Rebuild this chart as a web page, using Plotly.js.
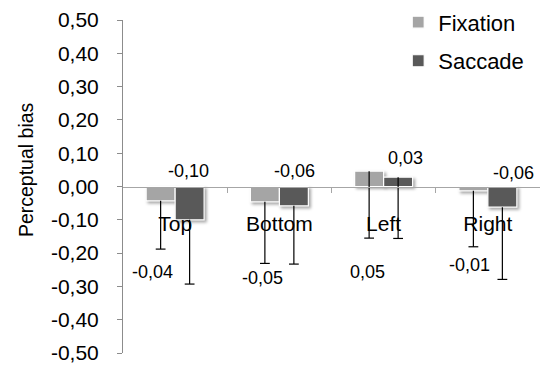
<!DOCTYPE html>
<html><head><meta charset="utf-8">
<script src="https://cdn.plot.ly/plotly-3.0.1.min.js"></script>
<style>
html,body{margin:0;padding:0;background:#fff}
#chart{width:540px;height:371px}
.barlayer .point path{filter:drop-shadow(2px 2px 1.5px rgba(0,0,0,0.35));}
</style></head><body><div id="chart"></div>
<script>
// ---- data ----
const categories = ['Top', 'Bottom', 'Left', 'Right'];
const fixation = [-0.043, -0.046, 0.046, -0.013];
const saccade = [-0.100, -0.058, 0.028, -0.062];
const fixationErr = [0.145, 0.185, 0.201, 0.168];
const saccadeErr = [0.193, 0.175, 0.184, 0.217];
const yTickVals = [-0.5, -0.4, -0.3, -0.2, -0.1, 0, 0.1, 0.2, 0.3, 0.4, 0.5];
const yTickLabels = ['-0,50', '-0,40', '-0,30', '-0,20', '-0,10', '0,00', '0,10', '0,20', '0,30', '0,40', '0,50'];

// ---- label placement (layout only) ----
const fixLabelY = [-0.258, -0.276, -0.256, -0.236];
const sacLabelY = [0.047, 0.047, 0.086, 0.042];
const fixLabelDX = [-8, -2, -2, -4];
const sacLabelDX = [-1, 1, 7, 11];

const FONT = '"Liberation Sans", Arial, sans-serif';
const bargap = 0.444;
const off = (1 - bargap) / 4;
const idx = categories.map((c, i) => i);
const fmt = v => (Math.round(v * 100) / 100).toFixed(2).replace('.', ',');

function errTrace(vals, errs, sign) {
  return {
    type: 'scatter', mode: 'markers',
    x: idx.map(i => i + sign * off),
    y: vals.map((v, k) => v - errs[k]),
    marker: {symbol: 'line-ew', size: 7, color: '#000', line: {width: 1.2, color: '#000'}},
    error_y: {type: 'data', symmetric: false, array: errs, arrayminus: errs.map(() => 0),
              width: 0, color: '#000', thickness: 1.2},
    showlegend: false, hoverinfo: 'skip'
  };
}

const traces = [
  {type: 'bar', name: 'Fixation', x: idx, y: fixation, legendgroup: 'a',
   marker: {color: '#a5a5a5', line: {color: '#ffffff', width: 1.2}}},
  {type: 'bar', name: 'Saccade', x: idx, y: saccade, legendgroup: 'b',
   marker: {color: '#595959', line: {color: '#ffffff', width: 1.2}}},
  errTrace(fixation, fixationErr, -1),
  errTrace(saccade, saccadeErr, 1)
];

const annotations = [];
idx.forEach(i => {
  annotations.push({xref: 'x', yref: 'y', x: i - off, y: fixLabelY[i], xshift: fixLabelDX[i],
    text: fmt(fixation[i]), showarrow: false, font: {family: FONT, size: 18, color: '#000'}});
  annotations.push({xref: 'x', yref: 'y', x: i + off, y: sacLabelY[i], xshift: sacLabelDX[i],
    text: fmt(saccade[i]), showarrow: false, font: {family: FONT, size: 18, color: '#000'}});
});
annotations.push({xref: 'paper', yref: 'paper', x: -0.232, y: 0.55, xanchor: 'center', yanchor: 'middle',
  text: 'Perceptual bias', textangle: -90, showarrow: false, font: {family: FONT, size: 19.5, color: '#000'}});

const layout = {
  width: 540, height: 371,
  margin: {l: 123, r: 0, t: 20, b: 18},
  paper_bgcolor: '#fff', plot_bgcolor: '#fff',
  font: {family: FONT, color: '#000'},
  barmode: 'group', bargap: bargap, bargroupgap: 0,
  xaxis: {
    type: 'linear', range: [-0.5, 3.5], tickmode: 'array', tickvals: idx, ticktext: categories,
    ticks: '', showline: true, linecolor: '#a6a6a6', linewidth: 1,
    anchor: 'free', position: 0.5, showgrid: false, zeroline: false,
    tickfont: {family: FONT, size: 21, color: '#000'}, ticklabelstandoff: 18,
    minor: {tickvals: idx.slice(1).map(i => i - 0.5), ticks: 'outside', ticklen: 5,
            tickcolor: '#a6a6a6', tickwidth: 1, showgrid: false}
  },
  yaxis: {
    range: [-0.5, 0.5], tickmode: 'array', tickvals: yTickVals, ticktext: yTickLabels,
    ticks: 'outside', ticklen: 5, tickcolor: '#8c8c8c', tickwidth: 1,
    showline: true, linecolor: '#8c8c8c', linewidth: 1,
    showgrid: false, zeroline: false,
    tickfont: {family: FONT, size: 21, color: '#000'}, ticklabelstandoff: 14
  },
  legend: {x: 0.66, y: 1.056, xanchor: 'left', yanchor: 'top', traceorder: 'grouped',
           tracegroupgap: 7, font: {family: FONT, size: 22, color: '#000'},
           bgcolor: 'rgba(0,0,0,0)'},
  annotations: annotations,
  showlegend: true
};

Plotly.newPlot('chart', traces, layout, {displayModeBar: false, staticPlot: true});
</script></body></html>
